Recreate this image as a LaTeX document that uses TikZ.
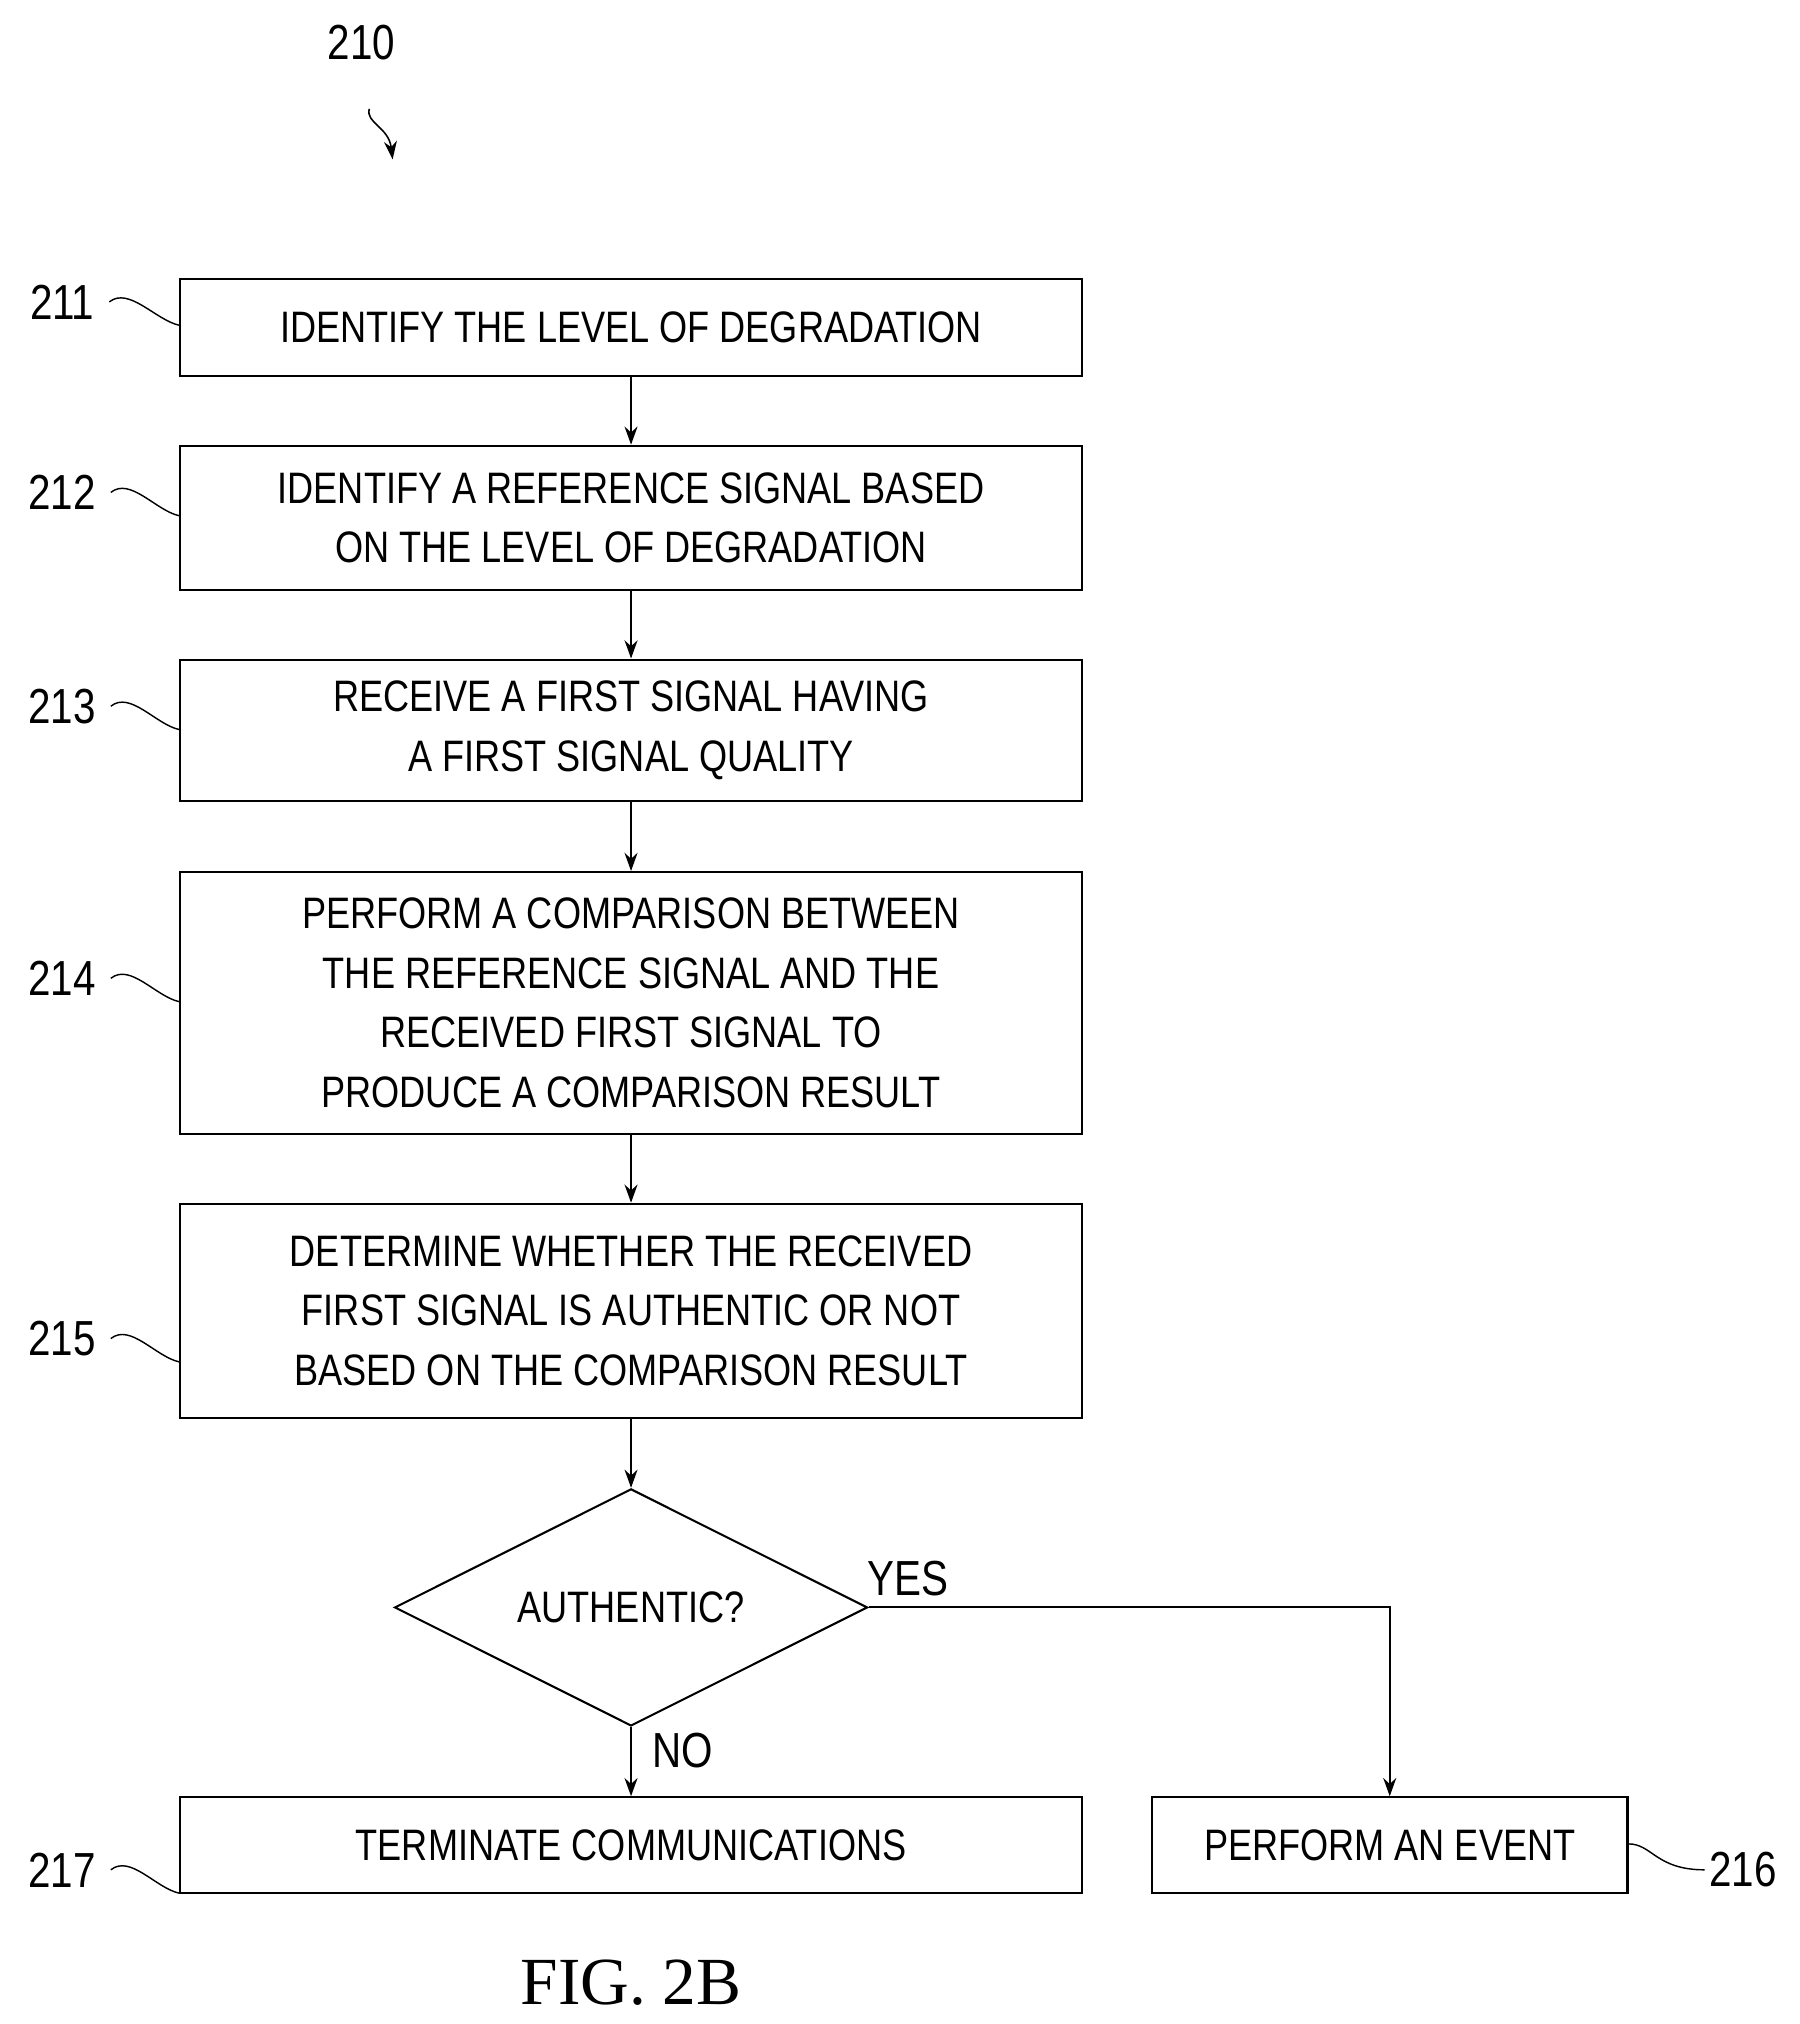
\documentclass[tikz,border=0pt]{standalone}
\usepackage{fontspec}
\setmainfont{Liberation Sans}[FakeStretch=0.82]
\newfontfamily\figfont{Liberation Serif}
\usetikzlibrary{arrows.meta,shapes.geometric}
\begin{document}
\begin{tikzpicture}[x=1pt,y=-1pt,
 box/.style={draw,line width=1.6pt,align=center,inner sep=0pt,font=\fontsize{34}{46}\selectfont},
 lbl/.style={font=\fontsize{38}{40}\selectfont},
 arr/.style={-{Stealth[length=14pt,width=10pt]},line width=1.6pt},
 lead/.style={line width=1.1pt}]
\useasboundingbox (0,0) rectangle (1389,1562);
\node[box,minimum width=696pt,minimum height=75pt] (b211) at (487,252.5) {IDENTIFY THE LEVEL OF DEGRADATION};
\node[box,minimum width=696pt,minimum height=111pt] (b212) at (487,399.5) {IDENTIFY A REFERENCE SIGNAL BASED\\ON THE LEVEL OF DEGRADATION};
\node[box,minimum width=696pt,minimum height=109pt] (b213) at (487,563.5) {RECEIVE A FIRST SIGNAL HAVING\\A FIRST SIGNAL QUALITY};
\node[box,minimum width=696pt,minimum height=202pt] (b214) at (487,774) {PERFORM A COMPARISON BETWEEN\\THE REFERENCE SIGNAL AND THE\\RECEIVED FIRST SIGNAL TO\\PRODUCE A COMPARISON RESULT};
\node[box,minimum width=696pt,minimum height=165pt] (b215) at (487,1011.5) {DETERMINE WHETHER THE RECEIVED\\FIRST SIGNAL IS AUTHENTIC OR NOT\\BASED ON THE COMPARISON RESULT};
\node[box,diamond,aspect=2,minimum width=365pt,minimum height=183pt] (d) at (487,1240.5) {AUTHENTIC?};
\node[box,minimum width=696pt,minimum height=74pt] (b217) at (487,1424) {TERMINATE COMMUNICATIONS};
\node[box,minimum width=367pt,minimum height=74pt] (b216) at (1072.5,1424) {PERFORM AN EVENT};
\draw[arr] (b211) -- (b212);
\draw[arr] (b212) -- (b213);
\draw[arr] (b213) -- (b214);
\draw[arr] (b214) -- (b215);
\draw[arr] (b215) -- (d);
\draw[arr] (d) -- (b217);
\draw[arr] (d.east) -| (b216.north);
\node[lbl] (yes) at (701,1218) {YES};
\node[lbl] (no) at (527,1351) {NO};
\foreach \n/\y in {211/233,212/380,213/545,214/755,215/1033,217/1443}{
 \node[lbl] (l\n) at (48,\y) {\n};
 \draw[lead] (l\n.east)+(8,0) .. controls +(15,-12) and +(-18,-4) .. ([xshift=0pt]b\n.west|-0,\y+18);
}
\node[lbl] (l216) at (1345,1443) {216};
\draw[lead] (b216.east|-0,1423) .. controls (1275,1423) and (1278,1443) .. (l216.west);
\node[lbl] (l210) at (279,33) {210};
\coordinate (t210) at (303,123);
\draw[arr,line width=1.2pt] (285,84) .. controls (282,95) and (300,98) .. (t210);
\node[font=\figfont\fontsize{52}{56}\selectfont] (fig) at (487,1530) {FIG. 2B};
\end{tikzpicture}
\end{document}
